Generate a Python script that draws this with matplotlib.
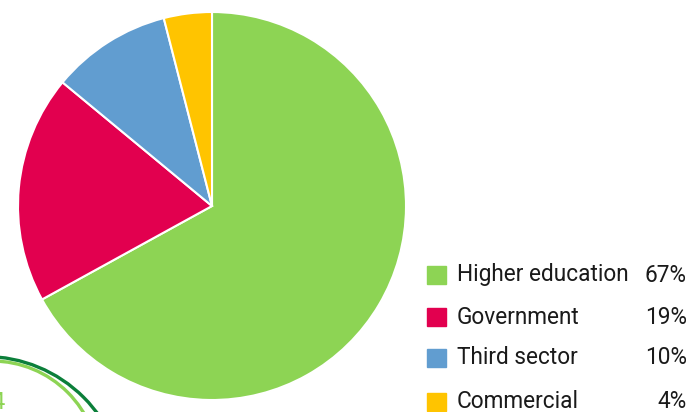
import matplotlib.pyplot as plt
from matplotlib.patches import Arc, Rectangle

# sectors of the pie, clockwise from 12 o'clock
labels = ["Higher education", "Government", "Third sector", "Commercial"]
shares = [67, 19, 10, 4]
colours = ["#8DD454", "#E2004F", "#619DD0", "#FFC400"]

W, H = 692, 412
fig = plt.figure(figsize=(W / 100, H / 100), dpi=100)
ax = fig.add_axes([0, 0, 1, 1])

ax.pie(shares, colors=colours, startangle=90, counterclock=False,
       center=(212, 206), radius=194,
       wedgeprops=dict(edgecolor="white", linewidth=1.5))
ax.set_xlim(0, W)
ax.set_ylim(0, H)
ax.set_aspect("equal")
ax.axis("off")

# leftover rings from a neighbouring graphic, clipped at the corner
ax.add_patch(Arc((-15, -84), 279, 279, theta1=0, theta2=180,
                 color="#0B7F3A", lw=2.4))
ax.add_patch(Arc((-8, -56), 214, 214, theta1=0, theta2=180,
                 color="#8DD454", lw=2.4))
ax.text(-9, -2, "4", color="#8DD454", fontsize=17, family="Roboto",
        ha="left", va="bottom")

# legend
row_y = [H - 275, H - 317, H - 358, H - 402]
for lab, val, col, y in zip(labels, shares, colours, row_y):
    ax.add_patch(Rectangle((427, y - 9), 19, 18, color=col))
    ax.text(457, y, lab, fontsize=16.3, family="Roboto", va="center",
            ha="left", color="#1a1a1a")
    ax.text(687, y, f"{val}%", fontsize=16.3, family="Roboto", va="center",
            ha="right", color="#1a1a1a")

fig.savefig("out.png", dpi=100)
